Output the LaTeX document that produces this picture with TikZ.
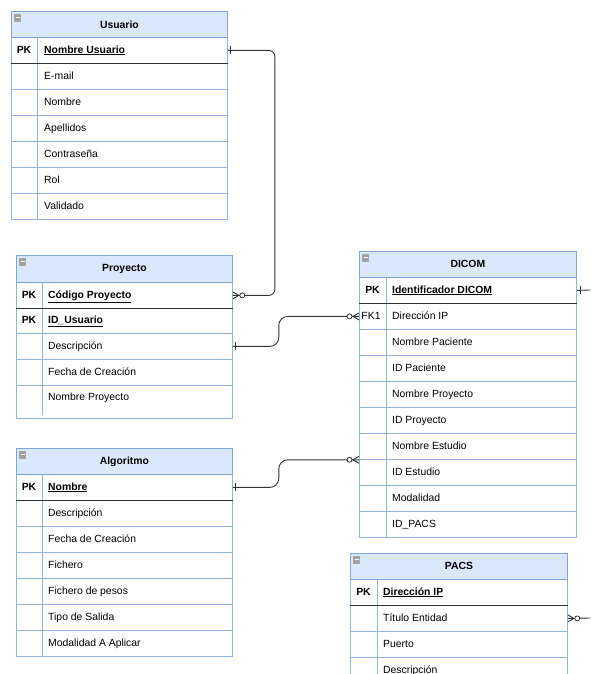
\documentclass[tikz,border=0pt]{standalone}
\usepackage{fontspec}
\setmainfont{Liberation Sans}
\usetikzlibrary{calc}

\definecolor{hdrfill}{HTML}{DAE8FC}
\definecolor{frame}{HTML}{7EA6E0}
\definecolor{cellline}{HTML}{93B4E3}
\definecolor{linkcol}{HTML}{333333}
\definecolor{iconfill}{HTML}{A0A0A0}

\newcommand{\erfont}{\fontsize{10.4pt}{12pt}\selectfont}

\tikzset{
  hdr/.style={draw=frame, fill=hdrfill, line width=0.8pt, anchor=north west,
    minimum height=26pt, inner sep=0pt, font=\erfont\bfseries},
  rowbox/.style={draw=cellline, fill=white, line width=0.8pt, anchor=north west,
    minimum height=26pt, inner sep=0pt},
  keytxt/.style={anchor=center, inner sep=0pt, text height=7.5pt, text depth=2pt,
    font=\erfont\bfseries},
  fktxt/.style={keytxt, font=\erfont},
  fldtxt/.style={anchor=west, inner sep=0pt, text height=7.5pt, text depth=2pt,
    font=\erfont},
  pktxt/.style={fldtxt, font=\erfont\bfseries},
  divider/.style={draw=cellline, line width=0.8pt},
  pkline/.style={draw=linkcol, line width=1.1pt},
  conn/.style={draw=linkcol, line width=0.9pt},
  ring/.style={draw=linkcol, line width=0.8pt, fill=white},
  icon/.style={draw=gray!70, fill=iconfill, line width=0.4pt},
}

% collapse icon in the top-left corner of a table header
\newcommand{\hdricon}[1]{%
  \draw[icon] ($(#1.north west)+(3.5,3.5)$) rectangle ($(#1.north west)+(9.5,10)$);
  \draw[white, line width=0.7pt] ($(#1.north west)+(4.5,6.8)$) -- ($(#1.north west)+(8.5,6.8)$);
}
% "one" mark: short bar across the line, #2 = side (1 right, -1 left), #3 = distance
\newcommand{\onebar}[3]{%
  \draw[conn] ($(#1)+(#2*#3,-4)$) -- ($(#1)+(#2*#3,4)$);
}
% "zero or many" mark: crow's foot at the table edge and a ring beyond it
\newcommand{\manyopt}[2]{%
  \draw[conn] ($(#1)+(0,-3.5)$) -- ($(#1)+(#2*6,0)$) -- ($(#1)+(0,3.5)$);
  \draw[ring] ($(#1)+(#2*9.5,0)$) circle[radius=2.5pt];
}

\begin{document}
\begin{tikzpicture}[x=1pt, y=-1pt]
\useasboundingbox (0,0) rectangle (590,674);
\clip (0,0) rectangle (590,674);

% ---------------- Usuario ----------------
\node[rowbox, minimum width=216pt] (usu-r0) at (11,37) {};
\node[keytxt] (usu-k0) at ($(usu-r0.west)+(13,0)$) {PK};
\node[pktxt] (usu-f0) at ($(usu-r0.west)+(33,0)$) {\underline{Nombre Usuario}};
\foreach \t [count=\i] in {E-mail,Nombre,Apellidos,Contraseña,Rol,Validado}{
  \node[rowbox, minimum width=216pt] (usu-r\i) at (11,37+26*\i) {};
  \node[fldtxt] (usu-f\i) at ($(usu-r\i.west)+(33,0)$) {\t};
}
\draw[divider] (37,37) -- (37,219);
\draw[pkline] (usu-r0.south west) -- (usu-r0.south east);
\node[hdr, minimum width=216pt] (usu) at (11,11) {Usuario};
\hdricon{usu}

% ---------------- Proyecto ----------------
\node[rowbox, minimum width=216pt] (pro-r0) at (16,282) {};
\node[keytxt] (pro-k0) at ($(pro-r0.west)+(13,0)$) {PK};
\node[pktxt] (pro-f0) at ($(pro-r0.west)+(32,0)$) {\underline{Código Proyecto}};
\node[rowbox, minimum width=216pt, minimum height=25pt] (pro-r1) at (16,308) {};
\node[keytxt] (pro-k1) at ($(pro-r1.west)+(13,0)$) {PK};
\node[pktxt] (pro-f1) at ($(pro-r1.west)+(32,0)$) {\underline{ID\_Usuario}};
\node[rowbox, minimum width=216pt] (pro-r2) at (16,333) {};
\node[fldtxt] (pro-f2) at ($(pro-r2.west)+(32,0)$) {Descripción};
\node[rowbox, minimum width=216pt] (pro-r3) at (16,359) {};
\node[fldtxt] (pro-f3) at ($(pro-r3.west)+(32,0)$) {Fecha de Creación};
\node[rowbox, minimum width=216pt, minimum height=33pt] (pro-r4) at (16,385) {};
\node[fldtxt] (pro-f4) at (48,397.5) {Nombre Proyecto};
\draw[divider] (42,282) -- (42,415);
\draw[pkline] (pro-r0.south west) -- (pro-r0.south east);
\node[hdr, minimum width=216pt, minimum height=27pt] (pro) at (16,255) {Proyecto};
\hdricon{pro}

% ---------------- Algoritmo ----------------
\node[rowbox, minimum width=216pt] (alg-r0) at (16,474) {};
\node[keytxt] (alg-k0) at ($(alg-r0.west)+(13,0)$) {PK};
\node[pktxt] (alg-f0) at ($(alg-r0.west)+(32,0)$) {\underline{Nombre}};
\foreach \t [count=\i] in {Descripción,Fecha de Creación,Fichero,Fichero de pesos,Tipo de Salida,Modalidad A Aplicar}{
  \node[rowbox, minimum width=216pt] (alg-r\i) at (16,474+26*\i) {};
  \node[fldtxt] (alg-f\i) at ($(alg-r\i.west)+(32,0)$) {\t};
}
\draw[divider] (42,474) -- (42,656);
\draw[pkline] (alg-r0.south west) -- (alg-r0.south east);
\node[hdr, minimum width=216pt] (alg) at (16,448) {Algoritmo};
\hdricon{alg}

% ---------------- DICOM ----------------
\node[rowbox, minimum width=217pt] (dic-r0) at (359,277) {};
\node[keytxt] (dic-k0) at ($(dic-r0.west)+(13.5,0)$) {PK};
\node[pktxt] (dic-f0) at ($(dic-r0.west)+(33,0)$) {\underline{Identificador DICOM}};
\foreach \t [count=\i] in {Dirección IP,Nombre Paciente,ID Paciente,Nombre Proyecto,ID Proyecto,Nombre Estudio,ID Estudio,Modalidad,ID\_PACS}{
  \node[rowbox, minimum width=217pt] (dic-r\i) at (359,277+26*\i) {};
  \node[fldtxt] (dic-f\i) at ($(dic-r\i.west)+(33,0)$) {\t};
}
\node[fktxt] (dic-k1) at ($(dic-r1.west)+(12,0)$) {FK1};
\draw[divider] (386,277) -- (386,537);
\draw[pkline] (dic-r0.south west) -- (dic-r0.south east);
\node[hdr, minimum width=217pt] (dic) at (359,251) {DICOM};
\hdricon{dic}

% ---------------- PACS ----------------
\node[rowbox, minimum width=217pt] (pacs-r0) at (350,579) {};
\node[keytxt] (pacs-k0) at ($(pacs-r0.west)+(13.5,0)$) {PK};
\node[pktxt] (pacs-f0) at ($(pacs-r0.west)+(33,0)$) {\underline{Dirección IP}};
\foreach \t [count=\i] in {Título Entidad,Puerto,Descripción}{
  \node[rowbox, minimum width=217pt] (pacs-r\i) at (350,579+26*\i) {};
  \node[fldtxt] (pacs-f\i) at ($(pacs-r\i.west)+(33,0)$) {\t};
}
\draw[divider] (377,579) -- (377,690);
\draw[pkline] (pacs-r0.south west) -- (pacs-r0.south east);
\node[hdr, minimum width=217pt] (pacs) at (350,553) {PACS};
\hdricon{pacs}

% ---------------- relationships ----------------
\coordinate (dic-out) at (590,290);
\coordinate (pacs-out) at (590,618);

\draw[conn, rounded corners=6pt] (usu-r0.east) -- ++(47,0) |- (pro-r0.east);
\draw[conn, rounded corners=9pt] (pro-r2.east) -- ++(46,0) |- (dic-r1.west);
\draw[conn, rounded corners=9pt] (alg-r0.east) -- ++(46,0) |- (dic-r6.south west);
\draw[conn] (dic-r0.east) -- (dic-out);
\draw[conn] (pacs-r1.east) -- (pacs-out);

\onebar{usu-r0.east}{1}{3}
\onebar{pro-r2.east}{1}{3}
\onebar{alg-r0.east}{1}{2.5}
\onebar{dic-r0.east}{1}{4}
\manyopt{pro-r0.east}{1}
\manyopt{dic-r1.west}{-1}
\manyopt{dic-r6.south west}{-1}
\manyopt{pacs-r1.east}{1}
\end{tikzpicture}
\end{document}
